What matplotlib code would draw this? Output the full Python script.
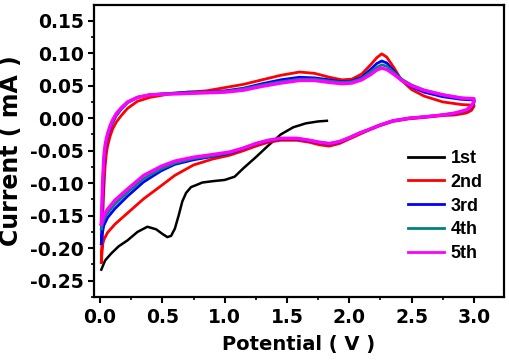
import numpy as np
import matplotlib
matplotlib.use('Agg')
import matplotlib.pyplot as plt
from matplotlib.ticker import AutoMinorLocator

# potentiaal roosters (V) voor de heen- en terugscan
E_op=[0.01,0.015,0.02,0.03,0.04,0.05,0.06,0.08,0.10,0.13,0.17,0.22,0.30,0.40,0.55,0.70,0.85,1.00,1.15,1.30,1.45,1.60,1.72,1.84,1.94,2.02,2.10,2.17,2.22,2.26,2.30,2.36,2.42,2.50,2.60,2.75,2.90,3.00]
E_neer=[3.00,2.98,2.94,2.85,2.75,2.60,2.48,2.35,2.24,2.15,2.08,2.00,1.92,1.84,1.76,1.68,1.58,1.45,1.35,1.25,1.15,1.04,0.90,0.75,0.60,0.49,0.35,0.22,0.12,0.06,0.03,0.02,0.01]

# 1st cyclus: alleen kathodisch vanaf OCP
E_1=[1.82,1.75,1.65,1.55,1.45,1.35,1.25,1.15,1.08,1.00,0.90,0.82,0.77,0.73,0.69,0.66,0.63,0.60,0.57,0.54,0.50,0.45,0.38,0.30,0.22,0.15,0.09,0.04,0.01]
I_1=[-0.004,-0.005,-0.008,-0.014,-0.025,-0.042,-0.060,-0.077,-0.090,-0.095,-0.097,-0.099,-0.103,-0.106,-0.115,-0.128,-0.150,-0.170,-0.181,-0.183,-0.178,-0.171,-0.167,-0.175,-0.188,-0.197,-0.208,-0.219,-0.233]

# stroom (mA) heen (op) en terug (neer) voor cyclus 2..5
I_2_op=[-0.222,-0.19,-0.16,-0.11,-0.075,-0.055,-0.043,-0.028,-0.017,-0.006,0.004,0.015,0.026,0.032,0.037,0.040,0.042,0.047,0.052,0.059,0.066,0.071,0.069,0.063,0.059,0.060,0.068,0.082,0.093,0.099,0.094,0.077,0.058,0.044,0.034,0.025,0.021,0.020]
I_2_neer=[0.018,0.012,0.008,0.005,0.004,0.001,-0.001,-0.005,-0.012,-0.019,-0.025,-0.032,-0.039,-0.043,-0.041,-0.037,-0.034,-0.034,-0.037,-0.043,-0.050,-0.057,-0.063,-0.072,-0.088,-0.104,-0.124,-0.146,-0.163,-0.176,-0.187,-0.195,-0.222]

I_3_op=[-0.193,-0.16,-0.125,-0.075,-0.05,-0.038,-0.029,-0.016,-0.007,0.004,0.014,0.024,0.032,0.036,0.038,0.040,0.040,0.042,0.046,0.053,0.059,0.063,0.062,0.059,0.056,0.057,0.063,0.075,0.084,0.088,0.085,0.072,0.059,0.048,0.040,0.033,0.029,0.028]
I_3_neer=[0.024,0.017,0.012,0.007,0.005,0.002,0.000,-0.004,-0.011,-0.018,-0.023,-0.030,-0.037,-0.040,-0.038,-0.035,-0.032,-0.032,-0.035,-0.040,-0.047,-0.054,-0.059,-0.064,-0.071,-0.081,-0.098,-0.120,-0.139,-0.153,-0.165,-0.175,-0.193]

I_4_op=[-0.170,-0.14,-0.11,-0.068,-0.047,-0.036,-0.027,-0.014,-0.005,0.005,0.015,0.024,0.032,0.036,0.038,0.039,0.040,0.041,0.045,0.051,0.056,0.060,0.060,0.057,0.055,0.056,0.061,0.071,0.078,0.082,0.080,0.070,0.060,0.051,0.043,0.036,0.031,0.029]
I_4_neer=[0.025,0.018,0.012,0.008,0.005,0.002,0.000,-0.004,-0.011,-0.018,-0.023,-0.030,-0.036,-0.039,-0.037,-0.034,-0.031,-0.031,-0.034,-0.039,-0.046,-0.053,-0.058,-0.062,-0.069,-0.078,-0.093,-0.114,-0.132,-0.146,-0.156,-0.162,-0.170]

I_5_op=[-0.163,-0.13,-0.10,-0.06,-0.042,-0.032,-0.024,-0.012,-0.003,0.007,0.016,0.025,0.032,0.036,0.037,0.038,0.039,0.040,0.043,0.049,0.054,0.058,0.058,0.055,0.053,0.054,0.059,0.067,0.074,0.077,0.075,0.067,0.058,0.050,0.043,0.036,0.031,0.030]
I_5_neer=[0.026,0.019,0.013,0.008,0.005,0.002,0.000,-0.004,-0.011,-0.018,-0.023,-0.030,-0.036,-0.039,-0.037,-0.034,-0.031,-0.031,-0.034,-0.039,-0.046,-0.052,-0.056,-0.060,-0.066,-0.074,-0.088,-0.109,-0.126,-0.140,-0.150,-0.155,-0.163]

labels=['1st','2nd','3rd','4th','5th']
kleuren=['black','#ff0000','#0000ff','#008080','#ff00ff']

xticks=[0.0,0.5,1.0,1.5,2.0,2.5,3.0]
xticklabels=['0.0','0.5','1.0','1.5','2.0','2.5','3.0']
yticks=[-0.25,-0.20,-0.15,-0.10,-0.05,0.00,0.05,0.10,0.15]
yticklabels=['-0.25','-0.20','-0.15','-0.10','-0.05','0.00','0.05','0.10','0.15']

plt.rcParams['font.family']='DejaVu Sans'
plt.rcParams['font.weight']='bold'

fig=plt.figure(figsize=(5.1,3.63),dpi=100)
ax=fig.add_axes([0.184,0.182,0.804,0.804])

ax.plot(E_1,I_1,color=kleuren[0],lw=1.8,label=labels[0])
cycli=[(I_2_op,I_2_neer),(I_3_op,I_3_neer),(I_4_op,I_4_neer),(I_5_op,I_5_neer)]
dikte=[2.0,2.0,2.0,2.4]
for k,(op,neer) in enumerate(cycli):
    ax.plot(E_op+E_neer,op+neer,color=kleuren[k+1],lw=dikte[k],label=labels[k+1],solid_joinstyle='round')

ax.set_xlim(-0.05,3.24)
ax.set_ylim(-0.275,0.174)
ax.set_xticks(xticks)
ax.set_xticklabels(xticklabels,fontsize=13.5,fontweight='bold')
ax.set_yticks(yticks)
ax.set_yticklabels(yticklabels,fontsize=13.5,fontweight='bold')
ax.xaxis.set_minor_locator(AutoMinorLocator(2))
ax.yaxis.set_minor_locator(AutoMinorLocator(2))
ax.tick_params(which='major',direction='out',length=4,width=1.5,top=False,right=False)
ax.tick_params(which='minor',direction='out',length=2.5,width=1.2,top=False,right=False)
ax.tick_params(axis='x',pad=4)
ax.tick_params(axis='y',pad=3)
for s in ax.spines.values():
    s.set_linewidth(1.6)

ax.set_xlabel('Potential ( V )',fontsize=14,fontweight='bold',labelpad=6)
ax.set_ylabel('Current ( mA )',fontsize=17,fontweight='bold',labelpad=5)

leg=ax.legend(loc='upper left',bbox_to_anchor=(0.745,0.535),frameon=False,
              prop={'family':'Liberation Sans','weight':'bold','size':13},
              handlelength=2.0,handletextpad=0.35,labelspacing=0.38,borderpad=0)
for l in leg.get_lines():
    l.set_linewidth(2)

plt.savefig('out.png',dpi=100)
